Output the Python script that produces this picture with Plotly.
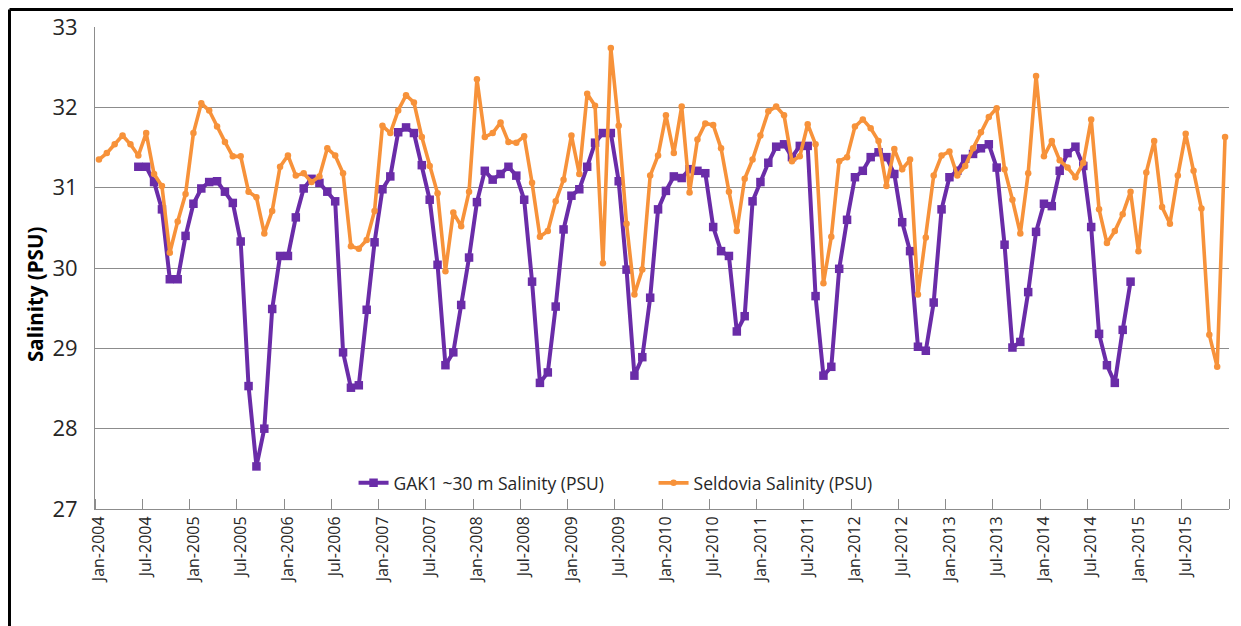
import pandas as pd
import plotly.graph_objects as go

# Monthly categories Jan-2004 .. Dec-2015
months = list(pd.date_range("2004-01-01", periods=144, freq="MS").strftime("%b-%Y"))
tick_labels = months[::6]

# Seldovia Salinity (PSU), Jan-2004 .. Dec-2015
seldovia = [
    31.35, 31.43, 31.54, 31.65, 31.54, 31.40, 31.68, 31.17, 31.02, 30.19, 30.58, 30.92,
    31.68, 32.05, 31.96, 31.76, 31.57, 31.39, 31.39, 30.95, 30.88, 30.43, 30.71, 31.26,
    31.40, 31.15, 31.18, 31.07, 31.14, 31.49, 31.40, 31.18, 30.27, 30.24, 30.35, 30.71,
    31.77, 31.68, 31.96, 32.15, 32.06, 31.63, 31.27, 30.93, 29.96, 30.69, 30.52, 30.95,
    32.35, 31.63, 31.68, 31.81, 31.57, 31.56, 31.64, 31.06, 30.39, 30.46, 30.83, 31.10,
    31.65, 31.17, 32.17, 32.02, 30.06, 32.74, 31.77, 30.55, 29.67, 29.98, 31.15, 31.40,
    31.90, 31.43, 32.01, 30.94, 31.60, 31.80, 31.78, 31.49, 30.95, 30.46, 31.11, 31.35,
    31.65, 31.95, 32.01, 31.90, 31.33, 31.39, 31.79, 31.54, 29.81, 30.39, 31.33, 31.38,
    31.76, 31.85, 31.74, 31.58, 31.02, 31.48, 31.23, 31.35, 29.67, 30.38, 31.15, 31.40,
    31.45, 31.15, 31.27, 31.49, 31.69, 31.88, 31.99, 31.23, 30.85, 30.43, 31.18, 32.39,
    31.39, 31.58, 31.34, 31.25, 31.13, 31.31, 31.85, 30.73, 30.31, 30.46, 30.67, 30.95,
    30.21, 31.19, 31.58, 30.76, 30.55, 31.15, 31.67, 31.21, 30.74, 29.17, 28.77, 31.63,
]

# GAK1 ~30 m Salinity (PSU), Jun-2004 .. Dec-2014
gak1_start = "Jun-2004"
gak1 = [
    31.26, 31.26, 31.07, 30.73, 29.86, 29.86, 30.40,
    30.80, 30.99, 31.07, 31.08, 30.95, 30.81, 30.33, 28.53, 27.53, 28.00, 29.49, 30.15,
    30.15, 30.63, 30.99, 31.11, 31.06, 30.95, 30.83, 28.95, 28.51, 28.54, 29.48, 30.32,
    30.98, 31.14, 31.69, 31.75, 31.68, 31.28, 30.85, 30.04, 28.79, 28.95, 29.54, 30.13,
    30.82, 31.21, 31.10, 31.17, 31.26, 31.15, 30.85, 29.83, 28.57, 28.70, 29.52, 30.48,
    30.90, 30.98, 31.26, 31.56, 31.68, 31.68, 31.08, 29.98, 28.66, 28.89, 29.63, 30.73,
    30.96, 31.14, 31.12, 31.23, 31.21, 31.18, 30.51, 30.21, 30.15, 29.21, 29.40, 30.83,
    31.07, 31.31, 31.51, 31.54, 31.38, 31.52, 31.52, 29.65, 28.66, 28.77, 29.99, 30.60,
    31.13, 31.21, 31.38, 31.44, 31.38, 31.17, 30.57, 30.21, 29.02, 28.97, 29.57, 30.73,
    31.13, 31.21, 31.36, 31.42, 31.49, 31.54, 31.25, 30.29, 29.01, 29.08, 29.70, 30.45,
    30.80, 30.77, 31.21, 31.43, 31.51, 31.27, 30.51, 29.18, 28.79, 28.57, 29.23, 29.83,
]

y_ticks = [27, 28, 29, 30, 31, 32, 33]

x_all = list(range(len(months)))
g0 = months.index(gak1_start)
x_gak1 = x_all[g0:g0 + len(gak1)]

PURPLE = "#6a2ca8"
ORANGE = "#f7923a"
GRID = "#8c8c8c"
TXT = "#262626"

fig = go.Figure()
fig.add_trace(go.Scatter(
    x=x_gak1, y=gak1, mode="lines+markers", name="GAK1 ~30 m Salinity (PSU)",
    line=dict(color=PURPLE, width=4),
    marker=dict(symbol="square", size=8.5, color=PURPLE),
    customdata=months[g0:g0 + len(gak1)],
    hovertemplate="%{customdata}: %{y}<extra></extra>",
))
fig.add_trace(go.Scatter(
    x=x_all, y=seldovia, mode="lines+markers", name="Seldovia Salinity (PSU)",
    line=dict(color=ORANGE, width=3.6),
    marker=dict(symbol="circle", size=6.5, color=ORANGE),
    customdata=months,
    hovertemplate="%{customdata}: %{y}<extra></extra>",
))

boundaries = [v - 0.5 for v in x_all[::6]] + [x_all[-1] + 0.5]

fig.update_layout(
    width=1233, height=618,
    margin=dict(l=87, r=12, t=19, b=117),
    paper_bgcolor="white", plot_bgcolor="white",
    font=dict(family="Open Sans, Noto Sans, sans-serif", color=TXT),
    showlegend=True,
    legend=dict(
        orientation="h", x=0.228, xanchor="left", y=0.054, yanchor="middle",
        bgcolor="rgba(0,0,0,0)", font=dict(size=17.5, color=TXT),
        entrywidth=255, entrywidthmode="pixels", tracegroupgap=0,
    ),
    xaxis=dict(
        range=[-0.5, len(months) - 0.5], automargin=False,
        tickmode="array", tickvals=x_all[::6], ticktext=tick_labels,
        tickangle=-90, tickfont=dict(size=16, color=TXT),
        ticks="", showgrid=False, zeroline=False,
        showline=True, linecolor=GRID, linewidth=1,
        minor=dict(tickmode="array", tickvals=boundaries, ticks="inside",
                   ticklen=10, tickcolor=GRID, tickwidth=1, showgrid=False),
    ),
    yaxis=dict(
        range=[27, 33], automargin=False, tickmode="array", tickvals=y_ticks,
        ticktext=[str(v) for v in y_ticks],
        tickfont=dict(size=22, color=TXT),
        showgrid=True, gridcolor=GRID, gridwidth=1,
        zeroline=False, showline=True, linecolor=GRID, linewidth=1,
        ticks="", ticklabelstandoff=12,
    ),
    annotations=[dict(
        text="<b>Salinity (PSU)</b>", textangle=-90, showarrow=False,
        xref="paper", yref="paper", x=-0.0529, y=0.444,
        xanchor="center", yanchor="middle",
        font=dict(size=20.5, color="#000000"),
    )],
)

# Frame lines of the original figure (top and left)
fig.add_shape(type="line", xref="paper", yref="paper",
              x0=-0.0754, x1=1.02, y0=1.0363, y1=1.0363,
              line=dict(color="black", width=3))
fig.add_shape(type="line", xref="paper", yref="paper",
              x0=-0.0754, x1=-0.0754, y0=1.0363, y1=-0.26,
              line=dict(color="black", width=3))

fig.write_html("out.html")
